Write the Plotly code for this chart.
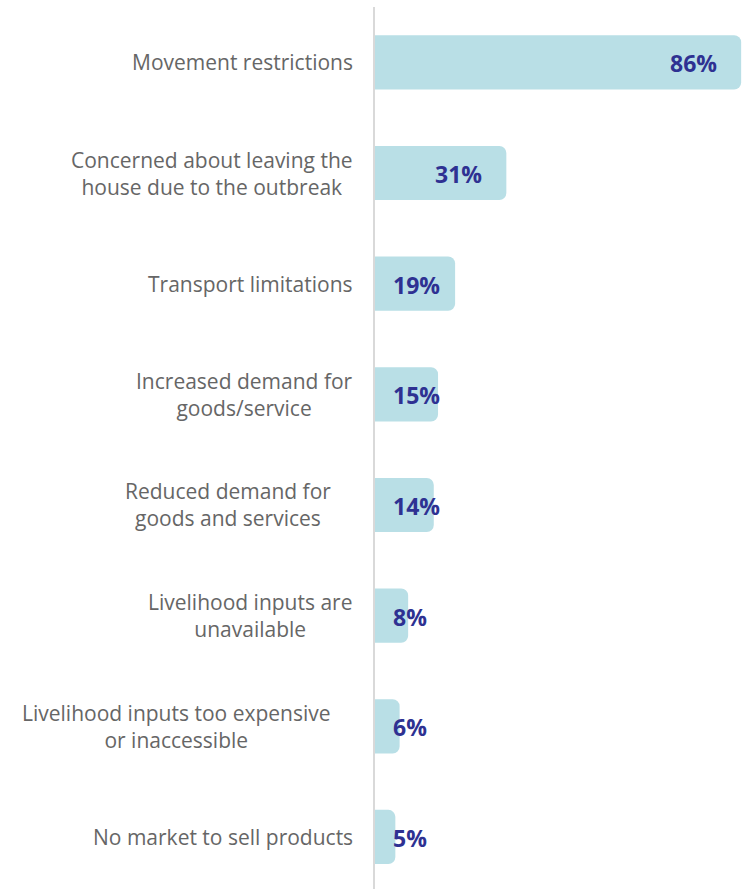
import plotly.graph_objects as go

categories = [
    "Movement restrictions",
    "Concerned about leaving the<br>house due to the outbreak",
    "Transport limitations",
    "Increased demand for<br>goods/service",
    "Reduced demand for<br>goods and services",
    "Livelihood inputs are<br>unavailable",
    "Livelihood inputs too expensive<br>or inaccessible",
    "No market to sell products",
]
values = [86, 31, 19, 15, 14, 8, 6, 5]
label_shift = [-19, -19, -19, -19, -41, -19, -41, -19]

BAR = "#b9dfe6"
GRAY = "#666666"
NAVY = "#2e3192"

fig = go.Figure()
fig.add_trace(go.Bar(
    y=list(range(len(categories))),
    x=values,
    orientation="h",
    marker=dict(color=BAR, line=dict(width=0)),
    width=0.49,
    hoverinfo="skip",
))

annotations = []
for i, (cat, v, sh) in enumerate(zip(categories, values, label_shift)):
    annotations.append(dict(
        x=0, xref="paper", y=i, yref="y", text=cat, showarrow=False,
        xanchor="right", yanchor="middle", align="center", xshift=sh,
        font=dict(family="Open Sans", size=21, color=GRAY),
    ))
    if v >= 20:
        annotations.append(dict(
            x=v, xref="x", y=i, yref="y", text=f"{v}%", showarrow=False,
            xanchor="right", yanchor="middle", xshift=-22, yshift=-1,
            font=dict(family="Open Sans", size=23, color=NAVY, weight="bold"),
        ))
    else:
        annotations.append(dict(
            x=0, xref="x", y=i, yref="y", text=f"{v}%", showarrow=False,
            xanchor="left", yanchor="middle", xshift=17, yshift=-1,
            font=dict(family="Open Sans", size=23, color=NAVY, weight="bold"),
        ))

fig.update_layout(
    width=742, height=889,
    margin=dict(l=374, r=0, t=7, b=0),
    paper_bgcolor="white", plot_bgcolor="white",
    barcornerradius=7,
    showlegend=False,
    annotations=annotations,
    xaxis=dict(range=[0, 86.2], visible=False, fixedrange=True),
    yaxis=dict(range=[len(categories) - 0.53, -0.5], showticklabels=False,
               showgrid=False, zeroline=False, showline=False, ticks="",
               fixedrange=True),
    shapes=[dict(type="line", xref="paper", yref="paper", x0=0, x1=0, y0=0, y1=1,
                 line=dict(color="#d9d9d9", width=2))],
)

fig.write_html(
    "out.html",
    config={"displayModeBar": False},
    post_script="document.body.style.margin='0';document.body.style.overflow='hidden';",
)
